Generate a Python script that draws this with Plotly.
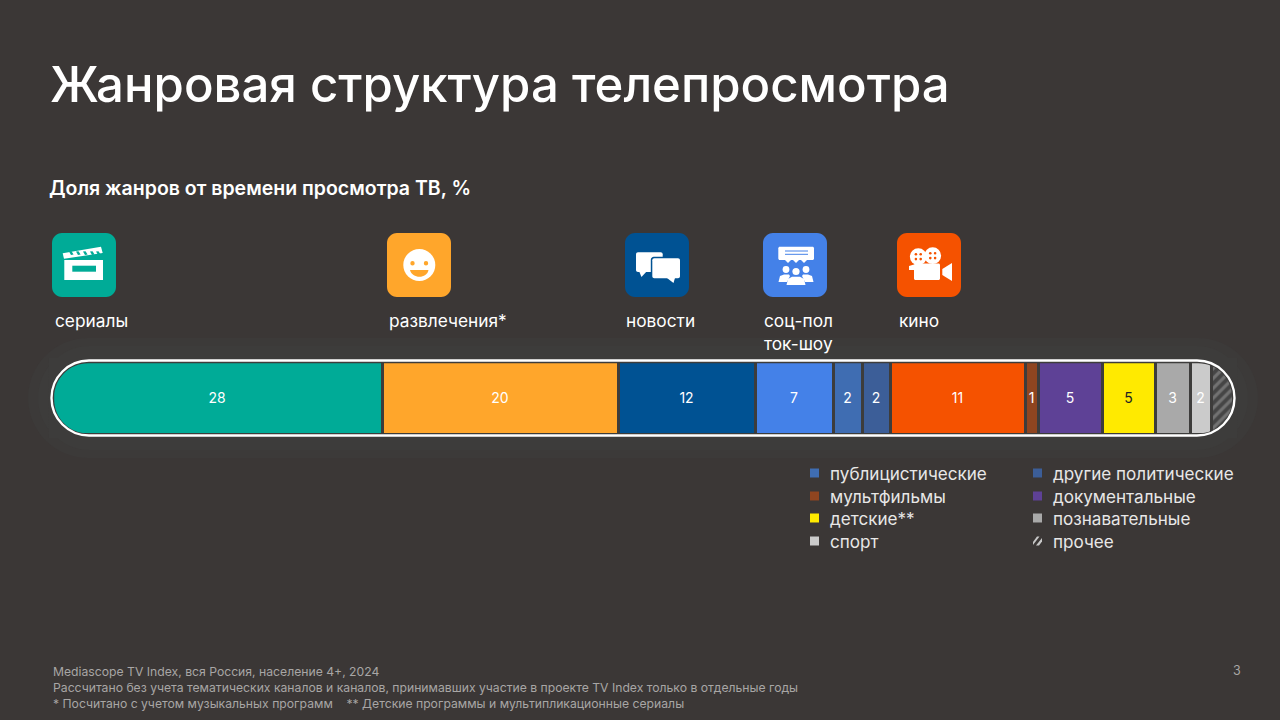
import plotly.graph_objects as go

# Доли жанров
genres = ["сериалы", "развлечения", "новости", "соц-пол ток-шоу", "публицистические",
          "другие политические", "кино", "мультфильмы", "документальные", "детские",
          "познавательные", "спорт", "прочее"]
shares = [27.9, 20.0, 11.6, 6.6, 2.4, 2.4, 11.4, 1.1, 5.4, 4.5, 3.0, 1.7, 1.9]
bar_labels = ["28", "20", "12", "7", "2", "2", "11", "1", "5", "5", "3", "2", ""]
colors = ["#00AB97", "#FFA62B", "#005293", "#4481E8", "#3F6DB2", "#3C5E98", "#F55200",
          "#8F4520", "#5E4196", "#FFEA00", "#A9A9A9", "#CBCBCB", "#4A4A4A"]
label_colors = ["white"] * 9 + ["#222222"] + ["white"] * 3

legend_left = ["публицистические", "мультфильмы", "детские**", "спорт"]
legend_left_colors = ["#3F6DB2", "#8F4520", "#FFEA00", "#CBCBCB"]
legend_right = ["другие политические", "документальные", "познавательные", "прочее"]
legend_right_colors = ["#3C5E98", "#5E4196", "#A9A9A9", None]

BG = "#3B3736"
HALO = "#3D3C3B"
FONT = "Inter"
W = 1280
H = 720


def P(x, y):
    return f"{x / W:.5f},{1 - y / H:.5f}"


def poly(pts):
    return "M" + " L".join(P(x, y) for x, y in pts) + " Z"


def rrect(x0, y0, x1, y1, r):
    k = r * 0.448
    return (f"M{P(x0 + r, y0)} L{P(x1 - r, y0)} C{P(x1 - k, y0)} {P(x1, y0 + k)} {P(x1, y0 + r)} "
            f"L{P(x1, y1 - r)} C{P(x1, y1 - k)} {P(x1 - k, y1)} {P(x1 - r, y1)} "
            f"L{P(x0 + r, y1)} C{P(x0 + k, y1)} {P(x0, y1 - k)} {P(x0, y1 - r)} "
            f"L{P(x0, y0 + r)} C{P(x0, y0 + k)} {P(x0 + k, y0)} {P(x0 + r, y0)} Z")


shapes = []


def path(d, fill="white", **kw):
    shapes.append(dict(type="path", xref="paper", yref="paper", path=d, fillcolor=fill,
                       line=dict(width=0), layer=kw.pop("layer", "above"), **kw))


def circle(cx, cy, r, fill="white"):
    shapes.append(dict(type="circle", xref="paper", yref="paper", x0=(cx - r) / W, x1=(cx + r) / W,
                       y0=1 - (cy + r) / H, y1=1 - (cy - r) / H, fillcolor=fill,
                       line=dict(width=0), layer="above"))


def box(x0, y0, x1, y1, fill="white"):
    path(poly([(x0, y0), (x1, y0), (x1, y1), (x0, y1)]), fill)


# Слабое свечение вокруг плашки
path(rrect(28, 338, 1258, 458, 60), "#3C3A39", layer="below")
path(rrect(38, 346, 1248, 450, 52), HALO, layer="below")

# Плашка: углы закрываем фоном, сверху белая рамка
path(poly([(49, 358), (1237, 358), (1237, 438), (49, 438)]) + " " + rrect(54.2, 363.2, 1232.2, 433.4, 34),
     HALO, fillrule="evenodd")
shapes.append(dict(type="path", xref="paper", yref="paper", path=rrect(51.5, 360.5, 1234.5, 435.5, 37.5),
                   line=dict(color="white", width=2.4), layer="above"))

# сериалы
path(rrect(52, 233, 116, 297, 10), "#00AB97")
box(64.3, 260, 103, 280)
box(72.3, 265.7, 96, 271.7, "#00AB97")
path(poly([(62.7, 253.3), (101, 246.7), (102.7, 253), (64, 258.8)]))
for sx in [69, 76, 83, 90, 96]:
    path(poly([(sx, 251.6), (sx + 2.5, 251.2), (sx + 4.6, 254.5), (sx + 2, 255)]), "#00AB97")

# развлечения
path(rrect(387, 233, 451, 297, 10), "#FFA62B")
circle(419.3, 265, 16)
circle(412.5, 263.3, 2.2, "#FFA62B")
circle(426, 263.3, 2.2, "#FFA62B")
path(f"M{P(410, 270)} L{P(428.5, 270)} C{P(427, 279)} {P(412, 279)} {P(410, 270)} Z", "#FFA62B")

# новости
path(rrect(625, 233, 689, 297, 10), "#005293")
path(rrect(636, 252.3, 662.7, 272, 2))
path(poly([(639, 271), (647, 271), (641.5, 277)]))
path(rrect(650.8, 256.8, 681.5, 279.8, 3), "#005293")
path(rrect(652.3, 258.3, 680, 278.3, 2))
path(poly([(667, 278), (675, 278), (673.5, 283)]))

# соц-пол ток-шоу
path(rrect(763, 233, 827, 297, 10), "#4481E8")
path(rrect(778.3, 246.7, 814, 260, 1.5))
for bx in [788, 796, 804]:
    path(poly([(bx - 3, 260), (bx + 3, 260), (bx, 263)]))
box(785, 250.5, 808, 251.5, "#4481E8")
box(785, 253.8, 808, 254.8, "#4481E8")
circle(786, 269.5, 3.4)
circle(806, 269.5, 3.4)
circle(796, 271.5, 3.6)
path(poly([(778.5, 282), (780, 276), (784, 274.5), (789, 274.5), (790, 276), (787, 282)]))
path(poly([(813.5, 282), (812, 276), (808, 274.5), (803, 274.5), (802, 276), (805, 282)]))
path(poly([(786.5, 285), (788, 279), (792, 276.8), (800, 276.8), (804, 279), (805.5, 285)]))

# кино
path(rrect(897, 233, 961, 297, 10), "#F55200")
circle(918.3, 256.7, 8.4)
circle(932.7, 255.7, 8.4)
for cx, cy in [(918.3, 256.7), (932.7, 255.7)]:
    for dx, dy in [(-2.4, -2.4), (2.4, -2.4), (-2.4, 2.4), (2.4, 2.4)]:
        circle(cx + dx, cy + dy, 1.3, "#F55200")
path(rrect(914, 263.5, 940, 280, 1.5))
path(poly([(909, 266), (914, 264.5), (914, 270), (909, 270)]))
path(poly([(942.3, 269), (952, 263), (952, 281), (942.3, 275)]))

# Подписи: x уменьшен на внутренний отступ аннотации (2 px)
texts = [
    (47.5, 84, "Жанровая структура телепросмотра", 49.1, "white", "left", 500),
    (47, 188, "Доля жанров от времени просмотра ТВ, %", 19.5, "white", "left", 600),
    (53, 320, "сериалы", 17.3, "white", "left", 400),
    (387, 320, "развлечения*", 17.3, "white", "left", 400),
    (624, 320, "новости", 17.3, "white", "left", 400),
    (762, 320, "соц-пол", 17.3, "white", "left", 400),
    (762, 343, "ток-шоу", 17.3, "white", "left", 400),
    (897, 320, "кино", 17.3, "white", "left", 400),
    (51, 671, "Mediascope TV Index, вся Россия, население 4+, 2024", 12.2, "#A8A6A5", "left", 400),
    (51, 687, "Рассчитано без учета тематических каналов и каналов, принимавших участие в проекте TV Index только в отдельные годы",
     12.2, "#A8A6A5", "left", 400),
    (51, 703, "* Посчитано с учетом музыкальных программ    ** Детские программы и мультипликационные сериалы",
     12.2, "#A8A6A5", "left", 400),
    (1237, 670, "3", 12.5, "#A8A6A5", "center", 400),
]

rows = [473, 496, 518, 541]
for y, name, c in zip(rows, legend_left, legend_left_colors):
    box(810, y - 4.5, 819, y + 4.5, c)
    texts.append((828, y, name, 17.1, "#E8E7E7", "left", 400))
for y, name, c in zip(rows, legend_right, legend_right_colors):
    if c:
        box(1033, y - 4.5, 1042, y + 4.5, c)
    else:
        path(poly([(1033, y + 1), (1037, y - 4.5), (1039.5, y - 4.5), (1033, y + 4)]), "#C8C8C8")
        path(poly([(1036, y + 4.5), (1042, y - 3), (1042, y + 0.5), (1039, y + 4.5)]), "#C8C8C8")
    texts.append((1050.5, y, name, 17.1, "#E8E7E7", "left", 400))

annotations = [dict(x=x / W, y=1 - y / H, xref="paper", yref="paper", text=t, showarrow=False,
                    xanchor=a, yanchor="middle", align=a, font=dict(family=FONT, size=s, color=c, weight=wt))
               for x, y, t, s, c, a, wt in texts]

fig = go.Figure()
for i, g in enumerate(genres):
    pattern = dict(shape="/", fgcolor="#A0A0A0", bgcolor="#454545", size=7, solidity=0.45) if g == "прочее" else None
    fig.add_trace(go.Bar(
        y=[""], x=[shares[i]], orientation="h", name=g,
        marker=dict(color=colors[i], line=dict(color=HALO, width=3), pattern=pattern),
        text=[bar_labels[i]], textposition="inside", insidetextanchor="middle", textangle=0,
        constraintext="none", textfont=dict(family=FONT, size=14, color=label_colors[i]),
        showlegend=False, hoverinfo="skip",
    ))

fig.update_layout(
    width=W, height=H, margin=dict(l=0, r=0, t=0, b=0),
    barmode="stack", bargap=0,
    paper_bgcolor=BG, plot_bgcolor="rgba(0,0,0,0)",
    font=dict(family=FONT),
    xaxis=dict(domain=[52.5 / W, 1233.5 / W], range=[0, sum(shares)], visible=False, fixedrange=True),
    yaxis=dict(domain=[1 - 434.5 / H, 1 - 361 / H], visible=False, fixedrange=True),
    shapes=shapes, annotations=annotations,
)

fig.write_html("out.html", config=dict(displayModeBar=False),
               post_script="document.body.style.margin='0';document.body.style.overflow='hidden';")
